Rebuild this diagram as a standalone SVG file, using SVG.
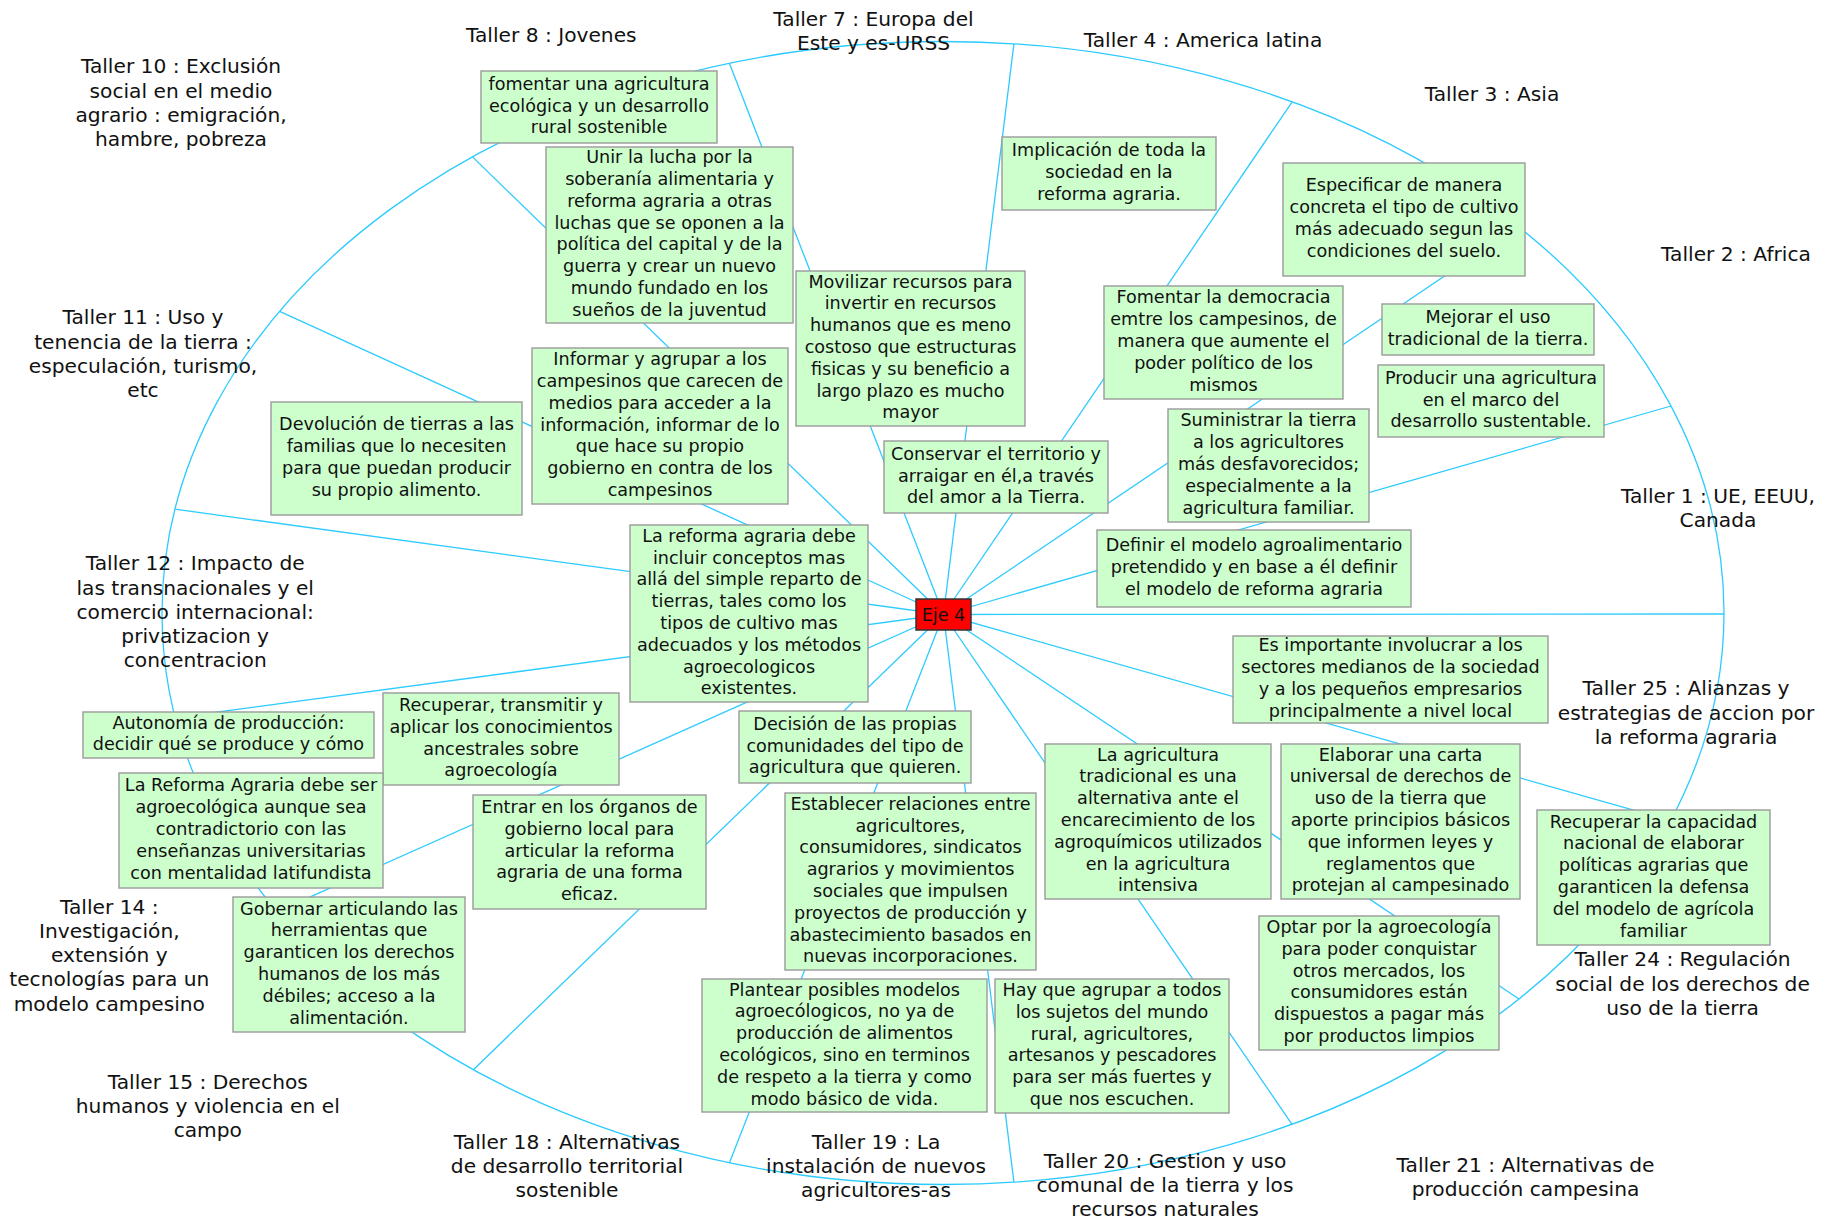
<svg xmlns="http://www.w3.org/2000/svg" width="1836" height="1222" viewBox="0 0 1836 1222">
<style>
.box{fill:#ccffcc;stroke:#9a9a9a;stroke-width:1.4}
.t{font-family:"DejaVu Sans",sans-serif;font-size:17.6px;fill:#111;text-anchor:middle}
.lab{font-family:"DejaVu Sans",sans-serif;font-size:20.2px;fill:#111;text-anchor:middle}
.con{stroke:#2ccbff;stroke-width:1.3;fill:none}
</style>
<rect width="1836" height="1222" fill="#ffffff"/>
<g id="connectors">
<ellipse class="con" cx="943" cy="613" rx="781" ry="571.5"/>
<line class="con" x1="943.5" y1="614.5" x2="1724" y2="614"/>
<line class="con" x1="943.5" y1="614.5" x2="1671" y2="406"/>
<line class="con" x1="943.5" y1="614.5" x2="1518.1" y2="226.3"/>
<line class="con" x1="943.5" y1="614.5" x2="1292.2" y2="101.8"/>
<line class="con" x1="943.5" y1="614.5" x2="1013.9" y2="43.9"/>
<line class="con" x1="943.5" y1="614.5" x2="729.4" y2="63.3"/>
<line class="con" x1="943.5" y1="614.5" x2="472.5" y2="156.9"/>
<line class="con" x1="943.5" y1="614.5" x2="279.7" y2="311.3"/>
<line class="con" x1="943.5" y1="614.5" x2="175" y2="509.2"/>
<line class="con" x1="943.5" y1="614.5" x2="175.2" y2="717.7"/>
<line class="con" x1="943.5" y1="614.5" x2="277.2" y2="911.7"/>
<line class="con" x1="943.5" y1="614.5" x2="473.4" y2="1069.7"/>
<line class="con" x1="943.5" y1="614.5" x2="729.5" y2="1162.7"/>
<line class="con" x1="943.5" y1="614.5" x2="1013.9" y2="1182.1"/>
<line class="con" x1="943.5" y1="614.5" x2="1292" y2="1124.3"/>
<line class="con" x1="943.5" y1="614.5" x2="1519" y2="999"/>
<line class="con" x1="943.5" y1="614.5" x2="1670.6" y2="820.7"/>
</g>
<g id="labels">
<text class="lab" x="1718" y="502.5"><tspan x="1718">Taller 1 : UE, EEUU,</tspan><tspan x="1718" dy="24.2">Canada</tspan></text>
<text class="lab" x="1736" y="261">Taller 2 : Africa</text>
<text class="lab" x="1492" y="100.7">Taller 3 : Asia</text>
<text class="lab" x="1203" y="47">Taller 4 : America latina</text>
<text class="lab" x="873.5" y="26"><tspan x="873.5">Taller 7 : Europa del</tspan><tspan x="873.5" dy="24.2">Este y es-URSS</tspan></text>
<text class="lab" x="551.3" y="41.7">Taller 8 : Jovenes</text>
<text class="lab" x="181" y="73.3"><tspan x="181">Taller 10 : Exclusión</tspan><tspan x="181" dy="24.2">social en el medio</tspan><tspan x="181" dy="24.2">agrario : emigración,</tspan><tspan x="181" dy="24.2">hambre, pobreza</tspan></text>
<text class="lab" x="143" y="324.3"><tspan x="143">Taller 11 : Uso y</tspan><tspan x="143" dy="24.2">tenencia de la tierra :</tspan><tspan x="143" dy="24.2">especulación, turismo,</tspan><tspan x="143" dy="24.2">etc</tspan></text>
<text class="lab" x="195.2" y="570.3"><tspan x="195.2">Taller 12 : Impacto de</tspan><tspan x="195.2" dy="24.2">las transnacionales y el</tspan><tspan x="195.2" dy="24.2">comercio internacional:</tspan><tspan x="195.2" dy="24.2">privatizacion y</tspan><tspan x="195.2" dy="24.2">concentracion</tspan></text>
<text class="lab" x="109.3" y="913.7"><tspan x="109.3">Taller 14 :</tspan><tspan x="109.3" dy="24.2">Investigación,</tspan><tspan x="109.3" dy="24.2">extensión y</tspan><tspan x="109.3" dy="24.2">tecnologías para un</tspan><tspan x="109.3" dy="24.2">modelo campesino</tspan></text>
<text class="lab" x="207.8" y="1088.7"><tspan x="207.8">Taller 15 : Derechos</tspan><tspan x="207.8" dy="24.2">humanos y violencia en el</tspan><tspan x="207.8" dy="24.2">campo</tspan></text>
<text class="lab" x="567" y="1148.7"><tspan x="567">Taller 18 : Alternativas</tspan><tspan x="567" dy="24.2">de desarrollo territorial</tspan><tspan x="567" dy="24.2">sostenible</tspan></text>
<text class="lab" x="876" y="1148.7"><tspan x="876">Taller 19 : La</tspan><tspan x="876" dy="24.2">instalación de nuevos</tspan><tspan x="876" dy="24.2">agricultores-as</tspan></text>
<text class="lab" x="1165" y="1168"><tspan x="1165">Taller 20 : Gestion y uso</tspan><tspan x="1165" dy="24.2">comunal de la tierra y los</tspan><tspan x="1165" dy="24.2">recursos naturales</tspan></text>
<text class="lab" x="1525.5" y="1172"><tspan x="1525.5">Taller 21 : Alternativas de</tspan><tspan x="1525.5" dy="24.2">producción campesina</tspan></text>
<text class="lab" x="1682.6" y="966.3"><tspan x="1682.6">Taller 24 : Regulación</tspan><tspan x="1682.6" dy="24.2">social de los derechos de</tspan><tspan x="1682.6" dy="24.2">uso de la tierra</tspan></text>
<text class="lab" x="1686" y="695.3"><tspan x="1686">Taller 25 : Alianzas y</tspan><tspan x="1686" dy="24.2">estrategias de accion por</tspan><tspan x="1686" dy="24.2">la reforma agraria</tspan></text>
</g>
<g id="n1"><rect class="box" x="481" y="71" width="236" height="72"/><text class="t" y="89.7"><tspan x="599">fomentar una agricultura</tspan><tspan x="599" dy="21.8">ecológica y un desarrollo</tspan><tspan x="599" dy="21.8">rural sostenible</tspan></text></g>
<g id="n2"><rect class="box" x="546" y="147" width="247" height="176"/><text class="t" y="163.2"><tspan x="669.5">Unir la lucha por la</tspan><tspan x="669.5" dy="21.8">soberanía alimentaria y</tspan><tspan x="669.5" dy="21.8">reforma agraria a otras</tspan><tspan x="669.5" dy="21.8">luchas que se oponen a la</tspan><tspan x="669.5" dy="21.8">política del capital y de la</tspan><tspan x="669.5" dy="21.8">guerra y crear un nuevo</tspan><tspan x="669.5" dy="21.8">mundo fundado en los</tspan><tspan x="669.5" dy="21.8">sueños de la juventud</tspan></text></g>
<g id="n3"><rect class="box" x="1002" y="137" width="214" height="73"/><text class="t" y="156.2"><tspan x="1109">Implicación de toda la</tspan><tspan x="1109" dy="21.8">sociedad en la</tspan><tspan x="1109" dy="21.8">reforma agraria.</tspan></text></g>
<g id="n4"><rect class="box" x="796" y="271" width="229" height="155"/><text class="t" y="287.6"><tspan x="910.5">Movilizar recursos para</tspan><tspan x="910.5" dy="21.8">invertir en recursos</tspan><tspan x="910.5" dy="21.8">humanos que es meno</tspan><tspan x="910.5" dy="21.8">costoso que estructuras</tspan><tspan x="910.5" dy="21.8">fisicas y su beneficio a</tspan><tspan x="910.5" dy="21.8">largo plazo es mucho</tspan><tspan x="910.5" dy="21.8">mayor</tspan></text></g>
<g id="n5"><rect class="box" x="1283" y="163" width="242" height="113"/><text class="t" y="191.3"><tspan x="1404">Especificar de manera</tspan><tspan x="1404" dy="21.8">concreta el tipo de cultivo</tspan><tspan x="1404" dy="21.8">más adecuado segun las</tspan><tspan x="1404" dy="21.8">condiciones del suelo.</tspan></text></g>
<g id="n6"><rect class="box" x="1104" y="286" width="239" height="113"/><text class="t" y="303.4"><tspan x="1223.5">Fomentar la democracia</tspan><tspan x="1223.5" dy="21.8">emtre los campesinos, de</tspan><tspan x="1223.5" dy="21.8">manera que aumente el</tspan><tspan x="1223.5" dy="21.8">poder político de los</tspan><tspan x="1223.5" dy="21.8">mismos</tspan></text></g>
<g id="n7"><rect class="box" x="1382" y="304" width="212" height="51"/><text class="t" y="323.1"><tspan x="1488">Mejorar el uso</tspan><tspan x="1488" dy="21.8">tradicional de la tierra.</tspan></text></g>
<g id="n8"><rect class="box" x="1378" y="365" width="226" height="72"/><text class="t" y="383.7"><tspan x="1491">Producir una agricultura</tspan><tspan x="1491" dy="21.8">en el marco del</tspan><tspan x="1491" dy="21.8">desarrollo sustentable.</tspan></text></g>
<g id="n9"><rect class="box" x="1168" y="409" width="201" height="113"/><text class="t" y="426.4"><tspan x="1268.5">Suministrar la tierra</tspan><tspan x="1268.5" dy="21.8">a los agricultores</tspan><tspan x="1268.5" dy="21.8">más desfavorecidos;</tspan><tspan x="1268.5" dy="21.8">especialmente a la</tspan><tspan x="1268.5" dy="21.8">agricultura familiar.</tspan></text></g>
<g id="n10"><rect class="box" x="884" y="441" width="224" height="72"/><text class="t" y="459.7"><tspan x="996">Conservar el territorio y</tspan><tspan x="996" dy="21.8">arraigar en él,a través</tspan><tspan x="996" dy="21.8">del amor a la Tierra.</tspan></text></g>
<g id="n11"><rect class="box" x="1097" y="530" width="314" height="77"/><text class="t" y="551.2"><tspan x="1254">Definir el modelo agroalimentario</tspan><tspan x="1254" dy="21.8">pretendido y en base a él definir</tspan><tspan x="1254" dy="21.8">el modelo de reforma agraria</tspan></text></g>
<g id="n12"><rect class="box" x="532" y="348" width="256" height="156"/><text class="t" y="365.1"><tspan x="660">Informar y agrupar a los</tspan><tspan x="660" dy="21.8">campesinos que carecen de</tspan><tspan x="660" dy="21.8">medios para acceder a la</tspan><tspan x="660" dy="21.8">información, informar de lo</tspan><tspan x="660" dy="21.8">que hace su propio</tspan><tspan x="660" dy="21.8">gobierno en contra de los</tspan><tspan x="660" dy="21.8">campesinos</tspan></text></g>
<g id="n13"><rect class="box" x="271" y="402" width="251" height="113"/><text class="t" y="430.3"><tspan x="396.5">Devolución de tierras a las</tspan><tspan x="396.5" dy="21.8">familias que lo necesiten</tspan><tspan x="396.5" dy="21.8">para que puedan producir</tspan><tspan x="396.5" dy="21.8">su propio alimento.</tspan></text></g>
<g id="n14"><rect class="box" x="630" y="525" width="238" height="177"/><text class="t" y="541.7"><tspan x="749">La reforma agraria debe</tspan><tspan x="749" dy="21.8">incluir conceptos mas</tspan><tspan x="749" dy="21.8">allá del simple reparto de</tspan><tspan x="749" dy="21.8">tierras, tales como los</tspan><tspan x="749" dy="21.8">tipos de cultivo mas</tspan><tspan x="749" dy="21.8">adecuados y los métodos</tspan><tspan x="749" dy="21.8">agroecologicos</tspan><tspan x="749" dy="21.8">existentes.</tspan></text></g>
<g id="eje4"><rect x="916" y="599" width="55" height="31" fill="#ff0000" stroke="#333333" stroke-width="1.5"/><text class="t" x="943.5" y="620.5">Eje 4</text></g>
<g id="n16"><rect class="box" x="1233" y="636" width="315" height="87"/><text class="t" y="651.3"><tspan x="1390.5">Es importante involucrar a los</tspan><tspan x="1390.5" dy="21.8">sectores medianos de la sociedad</tspan><tspan x="1390.5" dy="21.8">y a los pequeños empresarios</tspan><tspan x="1390.5" dy="21.8">principalmente a nivel local</tspan></text></g>
<g id="n17"><rect class="box" x="83" y="712" width="291" height="46"/><text class="t" y="728.6"><tspan x="228.5">Autonomía de producción:</tspan><tspan x="228.5" dy="21.8">decidir qué se produce y cómo</tspan></text></g>
<g id="n18"><rect class="box" x="383" y="693" width="236" height="92"/><text class="t" y="711"><tspan x="501">Recuperar, transmitir y</tspan><tspan x="501" dy="21.8">aplicar los conocimientos</tspan><tspan x="501" dy="21.8">ancestrales sobre</tspan><tspan x="501" dy="21.8">agroecología</tspan></text></g>
<g id="n19"><rect class="box" x="119" y="773" width="264" height="115"/><text class="t" y="791.4"><tspan x="251">La Reforma Agraria debe ser</tspan><tspan x="251" dy="21.8">agroecológica aunque sea</tspan><tspan x="251" dy="21.8">contradictorio con las</tspan><tspan x="251" dy="21.8">enseñanzas universitarias</tspan><tspan x="251" dy="21.8">con mentalidad latifundista</tspan></text></g>
<g id="n20"><rect class="box" x="739" y="711" width="232" height="72"/><text class="t" y="729.7"><tspan x="855">Decisión de las propias</tspan><tspan x="855" dy="21.8">comunidades del tipo de</tspan><tspan x="855" dy="21.8">agricultura que quieren.</tspan></text></g>
<g id="n21"><rect class="box" x="473" y="795" width="233" height="114"/><text class="t" y="812.9"><tspan x="589.5">Entrar en los órganos de</tspan><tspan x="589.5" dy="21.8">gobierno local para</tspan><tspan x="589.5" dy="21.8">articular la reforma</tspan><tspan x="589.5" dy="21.8">agraria de una forma</tspan><tspan x="589.5" dy="21.8">eficaz.</tspan></text></g>
<g id="n22"><rect class="box" x="785" y="793" width="251" height="177"/><text class="t" y="809.7"><tspan x="910.5">Establecer relaciones entre</tspan><tspan x="910.5" dy="21.8">agricultores,</tspan><tspan x="910.5" dy="21.8">consumidores, sindicatos</tspan><tspan x="910.5" dy="21.8">agrarios y movimientos</tspan><tspan x="910.5" dy="21.8">sociales que impulsen</tspan><tspan x="910.5" dy="21.8">proyectos de producción y</tspan><tspan x="910.5" dy="21.8">abastecimiento basados en</tspan><tspan x="910.5" dy="21.8">nuevas incorporaciones.</tspan></text></g>
<g id="n23"><rect class="box" x="1045" y="744" width="226" height="155"/><text class="t" y="760.6"><tspan x="1158">La agricultura</tspan><tspan x="1158" dy="21.8">tradicional es una</tspan><tspan x="1158" dy="21.8">alternativa ante el</tspan><tspan x="1158" dy="21.8">encarecimiento de los</tspan><tspan x="1158" dy="21.8">agroquímicos utilizados</tspan><tspan x="1158" dy="21.8">en la agricultura</tspan><tspan x="1158" dy="21.8">intensiva</tspan></text></g>
<g id="n24"><rect class="box" x="1281" y="744" width="239" height="155"/><text class="t" y="760.6"><tspan x="1400.5">Elaborar una carta</tspan><tspan x="1400.5" dy="21.8">universal de derechos de</tspan><tspan x="1400.5" dy="21.8">uso de la tierra que</tspan><tspan x="1400.5" dy="21.8">aporte principios básicos</tspan><tspan x="1400.5" dy="21.8">que informen leyes y</tspan><tspan x="1400.5" dy="21.8">reglamentos que</tspan><tspan x="1400.5" dy="21.8">protejan al campesinado</tspan></text></g>
<g id="n25"><rect class="box" x="1537" y="810" width="233" height="135"/><text class="t" y="827.5"><tspan x="1653.5">Recuperar la capacidad</tspan><tspan x="1653.5" dy="21.8">nacional de elaborar</tspan><tspan x="1653.5" dy="21.8">políticas agrarias que</tspan><tspan x="1653.5" dy="21.8">garanticen la defensa</tspan><tspan x="1653.5" dy="21.8">del modelo de agrícola</tspan><tspan x="1653.5" dy="21.8">familiar</tspan></text></g>
<g id="n26"><rect class="box" x="233" y="897" width="232" height="135"/><text class="t" y="914.5"><tspan x="349">Gobernar articulando las</tspan><tspan x="349" dy="21.8">herramientas que</tspan><tspan x="349" dy="21.8">garanticen los derechos</tspan><tspan x="349" dy="21.8">humanos de los más</tspan><tspan x="349" dy="21.8">débiles; acceso a la</tspan><tspan x="349" dy="21.8">alimentación.</tspan></text></g>
<g id="n27"><rect class="box" x="1259" y="916" width="240" height="134"/><text class="t" y="933"><tspan x="1379">Optar por la agroecología</tspan><tspan x="1379" dy="21.8">para poder conquistar</tspan><tspan x="1379" dy="21.8">otros mercados, los</tspan><tspan x="1379" dy="21.8">consumidores están</tspan><tspan x="1379" dy="21.8">dispuestos a pagar más</tspan><tspan x="1379" dy="21.8">por productos limpios</tspan></text></g>
<g id="n28"><rect class="box" x="702" y="979" width="285" height="133"/><text class="t" y="995.5"><tspan x="844.5">Plantear posibles modelos</tspan><tspan x="844.5" dy="21.8">agroecólogicos, no ya de</tspan><tspan x="844.5" dy="21.8">producción de alimentos</tspan><tspan x="844.5" dy="21.8">ecológicos, sino en terminos</tspan><tspan x="844.5" dy="21.8">de respeto a la tierra y como</tspan><tspan x="844.5" dy="21.8">modo básico de vida.</tspan></text></g>
<g id="n29"><rect class="box" x="995" y="979" width="234" height="134"/><text class="t" y="996"><tspan x="1112">Hay que agrupar a todos</tspan><tspan x="1112" dy="21.8">los sujetos del mundo</tspan><tspan x="1112" dy="21.8">rural, agricultores,</tspan><tspan x="1112" dy="21.8">artesanos y pescadores</tspan><tspan x="1112" dy="21.8">para ser más fuertes y</tspan><tspan x="1112" dy="21.8">que nos escuchen.</tspan></text></g>
</svg>
